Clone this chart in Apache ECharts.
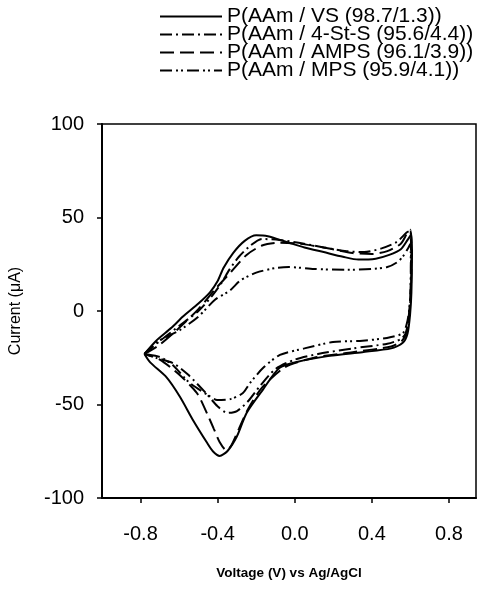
<!DOCTYPE html>
<html style="height: 100%">
<head>
<meta charset="utf-8">
<title>CV</title>
<script src="https://cdn.jsdelivr.net/npm/echarts@6/dist/echarts.min.js"></script>
</head>
<body style="height: 100%; margin: 0; background: #fff">
<div id="container" style="width: 495px; height: 592px"></div>
<script type="text/javascript">
// legend names
var seriesNames = [
    'P(AAm / VS (98.7/1.3))',
    'P(AAm / 4-St-S (95.6/4.4))',
    'P(AAm / AMPS (96.1/3.9))',
    'P(AAm / MPS (95.9/4.1))'
];
var xTicks = [-0.8, -0.4, 0.0, 0.4, 0.8];

// [voltage V, current uA], forward sweep then reverse sweep
var vsLoop = [
    [-0.78, -23], [-0.72, -16], [-0.64, -9], [-0.58, -3], [-0.5, 4], [-0.44, 10], [-0.4, 16],
    [-0.37, 23], [-0.32, 31], [-0.26, 37.5], [-0.2, 40.5], [-0.14, 40], [-0.03, 36.5], [0.05, 34],
    [0.15, 31.5], [0.25, 29], [0.33, 27.5], [0.42, 28], [0.49, 30], [0.55, 33], [0.585, 38], [0.605, 41],
    [0.608, 30], [0.605, 10], [0.598, -2], [0.585, -12], [0.56, -17], [0.5, -20], [0.35, -22],
    [0.18, -24], [0.01, -27.3], [-0.08, -30.5], [-0.165, -42], [-0.25, -54.5], [-0.3, -67],
    [-0.35, -75], [-0.39, -77.5], [-0.425, -75], [-0.455, -70.5], [-0.53, -58], [-0.595, -46],
    [-0.665, -35.5], [-0.75, -27.5], [-0.78, -23]
];
var stsLoop = [
    [-0.78, -23], [-0.7, -16], [-0.6, -8], [-0.5, 0], [-0.43, 8], [-0.38, 15], [-0.34, 22],
    [-0.29, 29], [-0.23, 35], [-0.17, 38.5], [-0.08, 38], [0.02, 36.5], [0.15, 34], [0.27, 32],
    [0.36, 31.5], [0.45, 33.5], [0.53, 37], [0.58, 42], [0.6, 43],
    [0.603, 30], [0.6, 10], [0.59, -4], [0.575, -12], [0.55, -15], [0.48, -17.5], [0.3, -20],
    [0.12, -23], [0, -26], [-0.1, -31], [-0.18, -40], [-0.24, -48], [-0.3, -53.5], [-0.35, -54.5],
    [-0.4, -51], [-0.46, -44], [-0.554, -34], [-0.63, -28], [-0.72, -25], [-0.78, -23]
];
var ampsLoop = [
    [-0.78, -23], [-0.7, -18], [-0.61, -10], [-0.5, 1], [-0.41, 12], [-0.33, 21], [-0.25, 30],
    [-0.17, 35], [-0.08, 36.5], [0.02, 36], [0.15, 34], [0.3, 31], [0.4, 30.5], [0.48, 32],
    [0.55, 36], [0.585, 42], [0.6, 43.5],
    [0.605, 30], [0.602, 10], [0.593, -3], [0.578, -12], [0.555, -16], [0.5, -19], [0.3, -22],
    [0.1, -25], [-0.05, -30], [-0.17, -41], [-0.24, -52], [-0.29, -63], [-0.33, -72],
    [-0.355, -74.5], [-0.39, -70], [-0.42, -63], [-0.45, -56], [-0.507, -44], [-0.6, -34],
    [-0.7, -26], [-0.78, -23]
];
var mpsLoop = [
    [-0.78, -23], [-0.72, -17], [-0.67, -14], [-0.6, -10.5], [-0.5, -3], [-0.414, 6], [-0.336, 11],
    [-0.28, 16.5], [-0.2, 20.5], [-0.1, 23], [-0.03, 23.5], [0.1, 22.5], [0.27, 22], [0.4, 22.5],
    [0.48, 23.5], [0.53, 26], [0.56, 29], [0.59, 34], [0.6, 36],
    [0.602, 20], [0.598, 5], [0.585, -5], [0.561, -11.8], [0.478, -14.4], [0.338, -16],
    [0.198, -16.6], [0.05, -20], [-0.077, -23.5], [-0.165, -30.5], [-0.232, -38.5], [-0.269, -43.8],
    [-0.33, -47], [-0.403, -47.6], [-0.45, -45], [-0.55, -38], [-0.632, -29], [-0.7, -24.6], [-0.78, -23]
];

var loops = [vsLoop, stsLoop, ampsLoop, mpsLoop];
var dashes = ['solid', [12, 4, 2, 4], [14, 6], [12, 4, 2, 3, 2, 4]];

var myChart = echarts.init(document.getElementById('container'));
var font = '"Liberation Sans", Arial, sans-serif';

var option = {
    animation: false,
    backgroundColor: '#fff',
    textStyle: { fontFamily: font, color: '#000' },
    grid: {
        left: 102, right: 19, top: 124, bottom: 94,
        show: true, borderColor: '#000', borderWidth: 1.5
    },
    legend: {
        orient: 'vertical',
        left: 154,
        top: 1,
        itemWidth: 62,
        itemHeight: 10,
        itemGap: -3,
        itemStyle: { opacity: 0 },
        textStyle: { fontSize: 21, color: '#000', fontFamily: font },
        data: seriesNames
    },
    xAxis: {
        type: 'value',
        min: -1.0,
        max: 0.94,
        name: 'Voltage (V) vs Ag/AgCl',
        nameLocation: 'middle',
        nameGap: 68,
        nameTextStyle: { fontSize: 13.5, fontWeight: 'bold', color: '#000' },
        axisLine: { onZero: false, lineStyle: { color: '#000', width: 2 } },
        axisTick: { show: true, customValues: xTicks, length: 5, lineStyle: { color: '#000', width: 1.5 } },
        axisLabel: {
            customValues: xTicks, margin: 26, fontSize: 20, color: '#000',
            formatter: function (v) { return v.toFixed(1); }
        },
        splitLine: { show: false }
    },
    yAxis: {
        type: 'value',
        min: -100,
        max: 100,
        interval: 50,
        name: 'Current (\u03BCA)',
        nameLocation: 'middle',
        nameGap: 78,
        nameTextStyle: { fontSize: 16, color: '#000' },
        axisLine: { onZero: false, lineStyle: { color: '#000', width: 2 } },
        axisTick: { show: true, length: 5, lineStyle: { color: '#000', width: 1.5 } },
        axisLabel: { margin: 18, fontSize: 20, color: '#000' },
        splitLine: { show: false }
    },
    series: seriesNames.map(function (name, i) {
        return {
            name: name,
            type: 'line',
            data: loops[i],
            symbol: 'none',
            showSymbol: false,
            smooth: 0.25,
            lineStyle: { color: '#000', width: 2, type: dashes[i] },
            itemStyle: { color: '#000' }
        };
    })
};
myChart.setOption(option);
</script>
</body>
</html>
